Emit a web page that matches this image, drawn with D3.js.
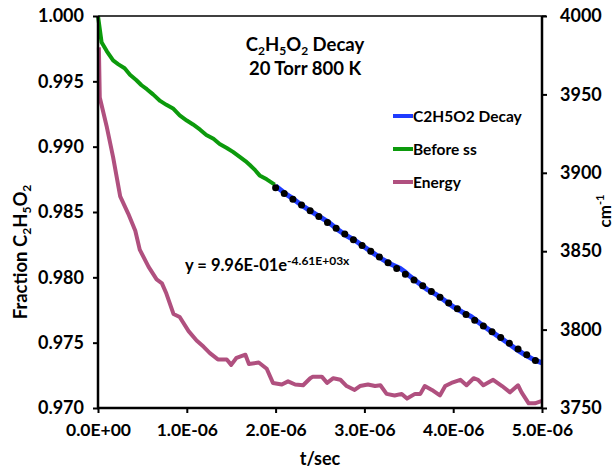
<!DOCTYPE html>
<html><head><meta charset="utf-8">
<script src="https://cdn.jsdelivr.net/npm/d3@7"></script>
<style>
body{margin:0;background:#fff}
text{font-family:Lato,"Open Sans",sans-serif;font-weight:bold;fill:#000}
</style>
</head><body><svg id="c" width="614" height="470"></svg>
<script>
// ---- data ----
const xTickValues = [0, 1e-6, 2e-6, 3e-6, 4e-6, 5e-6];
const xTickLabels = ["0.0E+00","1.0E-06","2.0E-06","3.0E-06","4.0E-06","5.0E-06"];
const yLeftTicks = [0.970, 0.975, 0.980, 0.985, 0.990, 0.995, 1.000];
const yRightTicks = [3750, 3800, 3850, 3900, 3950, 4000];

// "Before ss" (time in microseconds, fraction)
const beforeT = [0.00,0.04,0.10,0.17,0.23,0.30,0.36,0.43,0.49,0.55,0.62,0.70,0.77,0.85,0.92,1.00,1.07,1.15,1.22,1.30,1.37,1.45,1.52,1.60,1.66,1.71,1.77,1.82,1.90,1.99];
const beforeY = [1.0000,0.9980,0.9973,0.9966,0.9963,0.9960,0.9955,0.9951,0.9947,0.9944,0.9940,0.9935,0.9932,0.9929,0.9924,0.9920,0.9917,0.9913,0.9909,0.9906,0.9902,0.9899,0.9896,0.9892,0.9889,0.9886,0.9882,0.9878,0.9875,0.9871];

// "C2H5O2 Decay"
const decayT = [2.0,2.1,2.2,2.3,2.4,2.5,2.6,2.7,2.8,2.9,3.0,3.1,3.2,3.3,3.4,3.45,3.5,3.6,3.7,3.8,3.9,4.0,4.1,4.2,4.3,4.4,4.5,4.6,4.7,4.8,4.9,5.0];
const decayY = [0.98700,0.98645,0.98600,0.98548,0.98505,0.98462,0.98420,0.98365,0.98318,0.98280,0.98232,0.98185,0.98140,0.98100,0.98070,0.98045,0.98015,0.97962,0.97910,0.97872,0.97825,0.97775,0.97735,0.97700,0.97648,0.97600,0.97552,0.97505,0.97455,0.97410,0.97372,0.97345];

// "Energy" (cm-1, right axis)
const energyT = [0.01,0.02,0.10,0.17,0.25,0.34,0.42,0.47,0.57,0.66,0.72,0.77,0.85,0.92,1.02,1.11,1.19,1.26,1.35,1.45,1.50,1.56,1.66,1.70,1.81,1.90,1.97,2.07,2.14,2.22,2.31,2.39,2.42,2.52,2.58,2.65,2.73,2.80,2.89,2.95,3.04,3.12,3.18,3.25,3.34,3.42,3.48,3.57,3.63,3.68,3.76,3.85,3.91,3.98,4.08,4.15,4.23,4.28,4.34,4.45,4.55,4.64,4.73,4.77,4.85,4.92,5.00];
const energyV = [3980,3948,3929,3910,3885,3874,3863,3851,3840,3832,3829.5,3823,3810,3808,3799,3793,3789,3785,3781,3781,3777.5,3782,3784,3778,3779,3775,3766,3765,3767,3765,3764.5,3769,3770,3770,3766,3769,3768,3764,3761.5,3764,3765,3764,3764.5,3759,3758,3759,3756,3759,3759,3764,3761.5,3758,3764,3766,3768,3764.5,3769,3768,3764.5,3768,3764,3760,3764.5,3760,3753,3753,3754.5];

// exponential trendline shown on chart: y = 9.96E-01 e^(-4.61E+03 x)
const fitA = 0.996, fitB = -4610, fitStart = 2.0, fitEnd = 5.0;

// ---- layout ----
const svg = d3.select("#c");
const L = 98, R = 542, T = 16, B = 408;
const x = d3.scaleLinear().domain([0, 5e-6]).range([L, R]);
const y = d3.scaleLinear().domain([0.970, 1.000]).range([B, T]);
const y2 = d3.scaleLinear().domain([3750, 4000]).range([B, T]);
const us = 1e-6;

const cGreen = "#0c9a0c", cBlue = "#1f3cff", cMag = "#b0507f";

const line = (xs, ys, sc) => d3.line().x((d,i)=>x(xs[i]*us)).y((d,i)=>sc(ys[i]))(xs);

svg.append("path").attr("d", line(energyT, energyV, y2))
  .attr("fill","none").attr("stroke",cMag).attr("stroke-width",4).attr("stroke-linejoin","round");
svg.append("path").attr("d", line(beforeT, beforeY, y))
  .attr("fill","none").attr("stroke",cGreen).attr("stroke-width",4).attr("stroke-linejoin","round");
svg.append("path").attr("d", line(decayT, decayY, y))
  .attr("fill","none").attr("stroke",cBlue).attr("stroke-width",5).attr("stroke-linejoin","round");

// trendline (dotted)
const fitT = d3.range(fitStart, fitEnd + 1e-9, 0.05);
svg.append("path")
  .attr("d", d3.line().x(t=>x(t*us)).y(t=>y(fitA*Math.exp(fitB*t*us)))(fitT))
  .attr("fill","none").attr("stroke","#000").attr("stroke-width",7)
  .attr("stroke-linecap","round").attr("stroke-dasharray","0,10.4");

// axes
const gL = svg.append("g").attr("transform",`translate(${L},0)`);
gL.call(d3.axisLeft(y).tickValues(d3.range(0,31).map(i=>0.970+i*0.001)).tickSize(3).tickFormat(""));
gL.call(d3.axisLeft(y).tickValues(yLeftTicks).tickSize(5).tickFormat(d3.format(".3f")));
const gR = svg.append("g").attr("transform",`translate(${R},0)`);
gR.call(d3.axisRight(y2).tickValues(d3.range(3750,4001,10)).tickSize(3).tickFormat(""));
gR.call(d3.axisRight(y2).tickValues(yRightTicks).tickSize(5).tickFormat(d3.format("d")));
const gB = svg.append("g").attr("transform",`translate(0,${B})`);
gB.call(d3.axisBottom(x).tickValues(d3.range(0,26).map(i=>i*0.2e-6)).tickSize(3).tickFormat(""));
gB.call(d3.axisBottom(x).tickValues(xTickValues).tickSize(5).tickFormat((d,i)=>xTickLabels[i]));

svg.selectAll(".domain").remove();
svg.selectAll(".tick line").attr("stroke","#000").attr("stroke-width",2);
gL.selectAll(".tick text").attr("x",-14).style("font-size","18px");
gR.selectAll(".tick text").attr("x",18).style("font-size","18px");
gB.selectAll(".tick text").attr("y",16).style("font-size","17.5px");
svg.selectAll("g").attr("font-family",null).attr("font-size",null);

// axis lines
svg.append("line").attr("x1",L).attr("x2",L).attr("y1",T).attr("y2",B+1).attr("stroke","#000").attr("stroke-width",2.5);
svg.append("line").attr("x1",R).attr("x2",R).attr("y1",T).attr("y2",B+1).attr("stroke","#000").attr("stroke-width",2.5);
svg.append("line").attr("x1",L-1).attr("x2",R+1).attr("y1",B).attr("y2",B).attr("stroke","#000").attr("stroke-width",2.5);
svg.append("line").attr("x1",L).attr("x2",R+4).attr("y1",T).attr("y2",T).attr("stroke","#000").attr("stroke-width",1.5);

// title
const title = svg.append("text").attr("x",305).attr("y",51).attr("text-anchor","middle").style("font-size","18.5px");
title.append("tspan").text("C");
title.append("tspan").text("2").style("font-size","12px").attr("dy",4);
title.append("tspan").text("H").attr("dy",-4);
title.append("tspan").text("5").style("font-size","12px").attr("dy",4);
title.append("tspan").text("O").attr("dy",-4);
title.append("tspan").text("2").style("font-size","12px").attr("dy",4);
title.append("tspan").text(" Decay").attr("dy",-4);
svg.append("text").attr("x",305).attr("y",75).attr("text-anchor","middle").style("font-size","18.5px").text("20 Torr 800 K");

// legend
const legItems = [["C2H5O2 Decay",cBlue,116],["Before ss",cGreen,149],["Energy",cMag,182]];
legItems.forEach(([name,col,yy])=>{
  svg.append("line").attr("x1",393).attr("x2",413).attr("y1",yy).attr("y2",yy).attr("stroke",col).attr("stroke-width",4);
  svg.append("text").attr("x",413).attr("y",yy+5.5).style("font-size","15.5px").text(name);
});

// equation
const eq = svg.append("text").attr("x",185).attr("y",271).style("font-size","16.5px");
eq.append("tspan").text("y = 9.96E-01e");
eq.append("tspan").text("-4.61E+03x").style("font-size","12px").attr("dy",-6);

// axis titles
const yl = svg.append("text").attr("transform","translate(27,252) rotate(-90)").attr("text-anchor","middle").style("font-size","18.5px");
yl.append("tspan").text("Fraction C");
yl.append("tspan").text("2").style("font-size","12px").attr("dy",4);
yl.append("tspan").text("H").attr("dy",-4);
yl.append("tspan").text("5").style("font-size","12px").attr("dy",4);
yl.append("tspan").text("O").attr("dy",-4);
yl.append("tspan").text("2").style("font-size","12px").attr("dy",4);

const yr = svg.append("text").attr("transform","translate(611,211) rotate(-90)").attr("text-anchor","middle").style("font-size","17px");
yr.append("tspan").text("cm");
yr.append("tspan").text("-1").style("font-size","11px").attr("dy",-7);

svg.append("text").attr("x",320).attr("y",465).attr("text-anchor","middle").style("font-size","18px").text("t/sec");
</script></body></html>
